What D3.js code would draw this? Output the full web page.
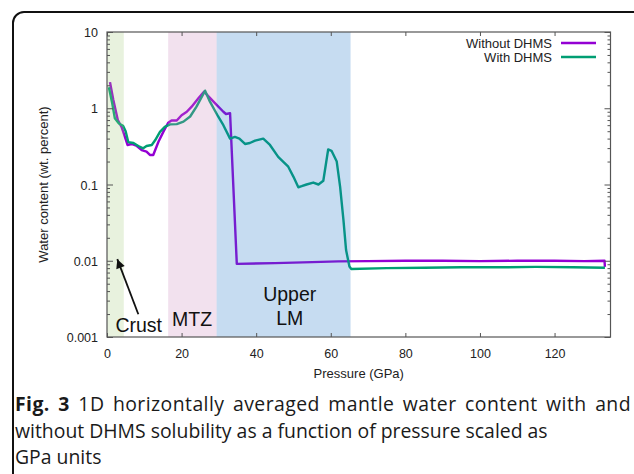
<!DOCTYPE html>
<html>
<head>
<meta charset="utf-8">
<script src="https://cdn.jsdelivr.net/npm/d3@7"></script>
<style>
  body { margin: 0; background: #fff; }
  svg { display: block; }
  .tick text { font-family: "Liberation Sans", Arial, sans-serif; font-size: 12.5px; fill: #222; }
</style>
</head>
<body>
<svg id="chart" width="634" height="474"></svg>
<script>
// pressure (GPa) and water content (wt. percent)
let pressure_without = [0.8, 1.7, 2.9, 3.9, 4.6, 5.5, 6.6, 8.0, 9.3, 10.6, 11.5, 12.4, 13.8, 15.1, 16.4, 17.3, 18.7, 20.0, 21.4, 22.7, 24.5, 26.0, 29.0, 31.2, 31.9, 33.0, 34.8, 45, 55, 62, 70, 80, 90, 100, 110, 120, 128, 133.4, 133.5]
let water_without = [2.2, 1.28, 0.70, 0.57, 0.45, 0.33, 0.34, 0.32, 0.283, 0.27, 0.244, 0.244, 0.364, 0.49, 0.646, 0.69, 0.69, 0.81, 0.90, 1.05, 1.35, 1.65, 1.16, 0.90, 0.84, 0.86, 0.0091, 0.0093, 0.0096, 0.0098, 0.0099, 0.0100, 0.0100, 0.0099, 0.0100, 0.0100, 0.0099, 0.0100, 0.0083]

let pressure_with = [0.5, 1.4, 2.1, 3.2, 4.3, 5.0, 5.7, 7.1, 8.4, 9.7, 10.6, 12.0, 12.9, 14.2, 15.5, 16.9, 18.7, 20.5, 22.3, 24.0, 26.3, 27.6, 29.8, 31.2, 33.0, 34.3, 35.5, 37.0, 38.3, 39.7, 41.9, 43.7, 45.9, 48.6, 50.0, 51.3, 52.2, 53.5, 55.3, 56.7, 58.0, 59.3, 60.2, 61.6, 62.5, 63.4, 64.1, 65.0, 65.5, 75, 85, 95, 105, 115, 125, 133.5]
let water_with = [1.88, 1.16, 0.74, 0.63, 0.59, 0.50, 0.36, 0.35, 0.32, 0.298, 0.32, 0.33, 0.38, 0.49, 0.57, 0.615, 0.62, 0.667, 0.78, 1.05, 1.7, 1.22, 0.78, 0.60, 0.40, 0.42, 0.40, 0.34, 0.35, 0.376, 0.40, 0.33, 0.23, 0.171, 0.126, 0.092, 0.095, 0.10, 0.106, 0.10, 0.112, 0.288, 0.277, 0.20, 0.094, 0.034, 0.0138, 0.0084, 0.0078, 0.0080, 0.0081, 0.0082, 0.0082, 0.0083, 0.0082, 0.0081]

let x_ticks = [0, 20, 40, 60, 80, 100, 120]
let y_ticks = [0.001, 0.01, 0.1, 1, 10]
let y_labels = ["0.001", "0.01", "0.1", "1", "10"]

// mantle regions
let region_start = [0, 16.4, 29.4]
let region_end = [4.5, 29.4, 65.3]
let region_color = ["#a3cb7b", "#cb87bb", "#1b73c7"]

let series_names = ["Without DHMS", "With DHMS"]
let series_colors = ["#9400d3", "#009e73"]

let caption = [
  "1D horizontally averaged mantle water content with and",
  "without DHMS solubility as a function of pressure scaled as",
  "GPa units"
]

// small stand-in for d3-selection-multi
d3.selection.prototype.attrs = function(o) {
  Object.keys(o).forEach(k => this.attr(k, o[k]))
  return this
}

let margin = {top: 32, right: 24, bottom: 137, left: 107}
let width = 634, height = 474
let font = '"Liberation Sans", Arial, sans-serif'

let svg = d3.select("#chart")

// card frame
svg.append("rect")
  .attrs({x: 13, y: 12, width: 640, height: 480, rx: 11, fill: "none", stroke: "#111", "stroke-width": 2})

let x = d3.scaleLinear().domain([0, 135]).range([margin.left, width - margin.right + 0.5])
let y = d3.scaleLog().domain([0.001, 10]).range([height - margin.bottom, margin.top])

let minor = []
y_ticks.slice(0, -1).forEach(t => d3.range(2, 10).forEach(k => minor.push(t * k)))

let line = d3.line()
  .x(d => x(d[0]))
  .y(d => y(d[1]))

let plot = svg.append("g")

plot.selectAll("path.series")
  .data([d3.zip(pressure_without, water_without), d3.zip(pressure_with, water_with)])
  .enter().append("path")
  .attrs({
    class: "series",
    d: line,
    fill: "none",
    stroke: (d, i) => series_colors[i],
    "stroke-width": 2.4,
    "stroke-linejoin": "round"
  })

// translucent regions drawn over the lines, as in the original
plot.selectAll("rect.region")
  .data(region_start).enter()
  .append("rect")
  .attrs({
    class: "region",
    x: d => x(d),
    y: margin.top,
    width: (d, i) => x(region_end[i]) - x(d),
    height: y(0.001) - margin.top,
    fill: (d, i) => region_color[i],
    "fill-opacity": 0.25
  })

// axes
let axis_color = "#555"
let x0 = x(0), x1 = x(135), y0 = y(0.001), y1 = y(10)

let bottom = svg.append("g").attr("transform", `translate(0, ${y0})`)
  .call(d3.axisBottom(x).tickValues(x_ticks).tickSize(-4).tickPadding(12))
let top_axis = svg.append("g").attr("transform", `translate(0, ${y1})`)
  .call(d3.axisTop(x).tickValues(x_ticks).tickSize(-4).tickFormat(""))
let left = svg.append("g").attr("transform", `translate(${x0}, 0)`)
  .call(d3.axisLeft(y).tickValues(y_ticks).tickSize(-6).tickPadding(9).tickFormat((d, i) => y_labels[i]))
let left_minor = svg.append("g").attr("transform", `translate(${x0}, 0)`)
  .call(d3.axisLeft(y).tickValues(minor).tickSize(-3).tickFormat(""))
let right = svg.append("g").attr("transform", `translate(${x1}, 0)`)
  .call(d3.axisRight(y).tickValues(y_ticks).tickSize(-6).tickFormat(""))
let right_minor = svg.append("g").attr("transform", `translate(${x1}, 0)`)
  .call(d3.axisRight(y).tickValues(minor).tickSize(-3).tickFormat(""))

svg.selectAll(".domain").remove()
svg.selectAll(".tick line").attr("stroke", axis_color)
left.selectAll("text").attr("dy", "0.36em")

svg.append("rect")
  .attrs({x: x0, y: y1, width: x1 - x0, height: y0 - y1, fill: "none", stroke: axis_color, "stroke-width": 1.2})

// axis titles
svg.append("text")
  .attrs({x: (x0 + x1) / 2, y: 378, "text-anchor": "middle", "font-family": font, "font-size": 13, fill: "#222"})
  .text("Pressure (GPa)")
svg.append("text")
  .attrs({transform: `translate(48, ${(y0 + y1) / 2}) rotate(-90)`, "text-anchor": "middle", "font-family": font, "font-size": 13, fill: "#222"})
  .text("Water content (wt. percent)")

// legend
let legend = svg.append("g").selectAll("g")
  .data(series_names).enter()
  .append("g")
  .attr("transform", (d, i) => `translate(0, ${43 + i * 14})`)
legend.append("text")
  .attrs({x: 552, dy: "0.35em", "text-anchor": "end", "font-family": font, "font-size": 13, fill: "#222"})
  .text(d => d)
legend.append("line")
  .attrs({x1: 561, x2: 596, stroke: (d, i) => series_colors[i], "stroke-width": 2.4})

// region labels
let notes = [
  {text: "Crust", p: 8.5, w: 0.00116},
  {text: "MTZ", p: 22.8, w: 0.00139},
  {text: "Upper", p: 49, w: 0.00296},
  {text: "LM", p: 49, w: 0.00143}
]
svg.selectAll("text.note")
  .data(notes).enter()
  .append("text")
  .attrs({
    class: "note",
    x: d => x(d.p),
    y: d => y(d.w),
    "text-anchor": "middle",
    "font-family": font,
    "font-size": 19.5,
    fill: "#111"
  })
  .text(d => d.text)

svg.append("defs").append("marker")
  .attrs({id: "head", viewBox: "0 0 10 10", refX: 10, refY: 5, markerWidth: 11, markerHeight: 9, markerUnits: "userSpaceOnUse", orient: "auto"})
  .append("path").attrs({d: "M0,0 L10,5 L0,10 Z", fill: "#111"})
svg.append("line")
  .attrs({x1: x(8.4), y1: y(0.00199), x2: x(2.76), y2: y(0.0105), stroke: "#111", "stroke-width": 1.8, "marker-end": "url(#head)"})

// caption
let cap_font = '"Open Sans", "Noto Sans", sans-serif'
let cap = svg.append("g").attrs({"font-family": cap_font, fill: "#1a1a1a"})
let cap_y = [411, 438, 464]
let size = 18
let probe = cap.append("text").attrs({"font-size": size}).text(caption[1])
size = size * 533 / probe.node().getComputedTextLength()
probe.remove()

let first = cap.append("text").attrs({x: 15, y: cap_y[0], "font-size": size})
first.append("tspan").attr("font-weight", "bold").text("Fig. 3")
first.append("tspan").text(" " + caption[0])
// justify the first line: share the slack between letters and word gaps
let full = "Fig. 3 " + caption[0]
let gap = 616 - first.node().getComputedTextLength()
let words = full.split(" ").length - 1
first.attr("letter-spacing", gap * 0.5 / full.length)
  .attr("word-spacing", gap * 0.5 / words)

caption.slice(1).forEach((t, i) => {
  cap.append("text").attrs({x: 15, y: cap_y[i + 1], "font-size": size}).text(t)
})
</script>
</body>
</html>
